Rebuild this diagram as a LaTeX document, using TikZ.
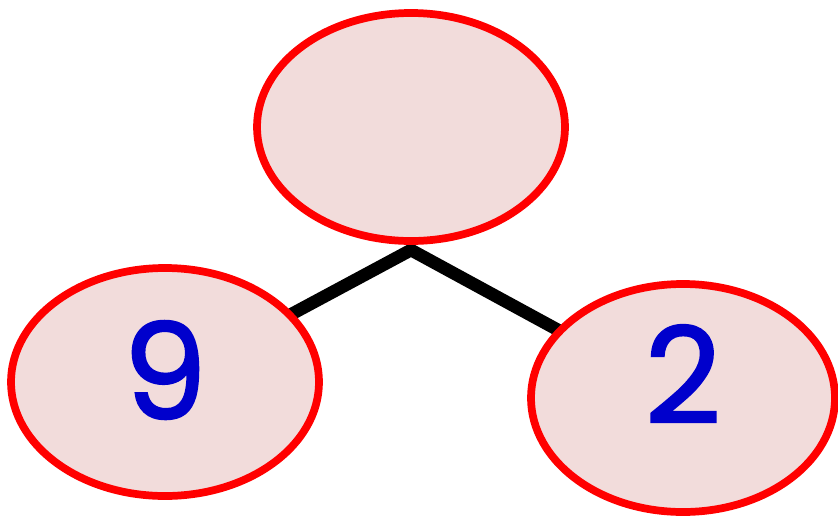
\documentclass[tikz,border=0pt]{standalone}
\usepackage{fontspec}
\setmainfont{Poppins}
\newfontfamily\digitfont{Poppins}[FakeBold=1.6]
\usetikzlibrary{shapes.geometric,backgrounds}
\definecolor{bubblefill}{RGB}{242,220,219}
\definecolor{digitblue}{RGB}{0,0,204}
\tikzset{
  bubble/.style={ellipse,draw=red,line width=5.8pt,fill=bubblefill,inner sep=0pt},
  digit/.style={text=digitblue,font=\digitfont\fontsize{100}{100}\selectfont,inner sep=0pt},
  link/.style={line width=9.5pt}
}
\begin{document}
\begin{tikzpicture}[x=0.75pt,y=-0.75pt]
\useasboundingbox (0,0) rectangle (838,518);
\node[bubble,minimum width=231pt,minimum height=171pt] (whole) at (411,127) {};
\node[bubble,minimum width=231pt,minimum height=171pt] (left) at (165,382) {};
\node[bubble,minimum width=228pt,minimum height=171pt] (right) at (683,398) {};
\node[digit] (nine) at (165,370) {9};
\node[digit] (two) at (683,374) {2};
\coordinate (joint) at (411,250);
\begin{pgfonlayer}{background}
\draw[link] (left.center) -- (joint) -- (right.center);
\end{pgfonlayer}
\end{tikzpicture}
\end{document}
